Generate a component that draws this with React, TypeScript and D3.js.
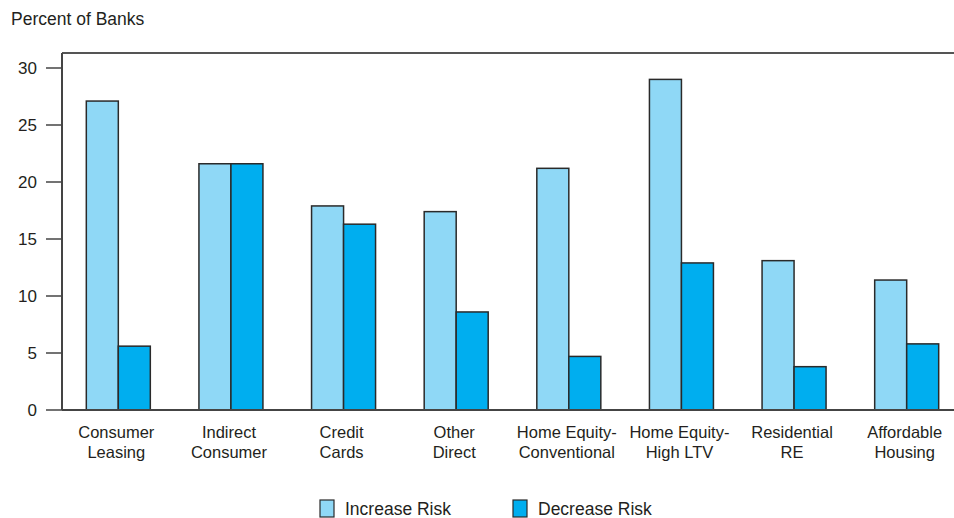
import React from "react";
import * as d3 from "d3";

const categories: string[][] = [
  ["Consumer", "Leasing"],
  ["Indirect", "Consumer"],
  ["Credit", "Cards"],
  ["Other", "Direct"],
  ["Home Equity-", "Conventional"],
  ["Home Equity-", "High LTV"],
  ["Residential", "RE"],
  ["Affordable", "Housing"],
];
const increaseRisk = [27.1, 21.6, 17.9, 17.4, 21.2, 29.0, 13.1, 11.4];
const decreaseRisk = [5.6, 21.6, 16.3, 8.6, 4.7, 12.9, 3.8, 5.8];
const yTicks = [0, 5, 10, 15, 20, 25, 30];
const seriesNames = ["Increase Risk", "Decrease Risk"];
const colors = ["#8fd8f6", "#00aeef"];

export default function App() {
  const W = 954;
  const H = 518;
  const x0 = 62;
  const x1 = 963;
  const yTop = 53;
  const yBase = 410;
  const x = d3
    .scaleBand<number>()
    .domain(d3.range(categories.length))
    .range([x0, x1])
    .paddingInner(0)
    .paddingOuter(0);
  const barW = 32;
  const y = d3.scaleLinear().domain([0, 30]).range([yBase, 68]);
  const font = "'Liberation Sans', Arial, Helvetica, sans-serif";
  const textColor = "#231f20";
  const series = [increaseRisk, decreaseRisk];

  return (
    <svg
      width={W}
      height={H}
      style={{ position: "absolute", left: 0, top: 0, background: "#fff" }}
      fontFamily={font}
    >
      <text x={11} y={25} fontSize={17.5} fill={textColor}>
        Percent of Banks
      </text>
      {/* bars */}
      {categories.map((_, i) => {
        const c = (x(i) as number) + x.bandwidth() / 2;
        return series.map((s, k) => (
          <rect
            key={`${i}-${k}`}
            x={c - barW + k * barW}
            y={y(s[i])}
            width={barW}
            height={yBase - y(s[i])}
            fill={colors[k]}
            stroke="#2a2a2a"
            strokeWidth={1.5}
          />
        ));
      })}
      {/* frame lines */}
      <line x1={x0} x2={W} y1={yTop} y2={yTop} stroke="#555" strokeWidth={2} />
      <line x1={x0} x2={W} y1={yBase} y2={yBase} stroke="#444" strokeWidth={2} />
      <line x1={x0} x2={x0} y1={yTop} y2={yBase} stroke="#444" strokeWidth={2} />
      {/* y ticks */}
      {yTicks.map((t) => (
        <g key={t}>
          <line x1={46} x2={x0} y1={y(t)} y2={y(t)} stroke="#444" strokeWidth={1.5} />
          <text
            x={37}
            y={y(t)}
            dy="0.35em"
            textAnchor="end"
            fontSize={17}
            fill={textColor}
          >
            {t}
          </text>
        </g>
      ))}
      {/* x labels */}
      {categories.map((lines, i) => {
        const c = (x(i) as number) + x.bandwidth() / 2;
        return (
          <text key={i} textAnchor="middle" fontSize={16.5} fill={textColor}>
            {lines.map((l, j) => (
              <tspan key={j} x={c - 2} y={438 + j * 20}>
                {l}
              </tspan>
            ))}
          </text>
        );
      })}
      {/* legend */}
      {seriesNames.map((n, k) => {
        const lx = k === 0 ? 320 : 513;
        return (
          <g key={n}>
            <rect
              x={lx}
              y={500}
              width={14}
              height={17}
              fill={colors[k]}
              stroke="#2a2a2a"
              strokeWidth={1.2}
            />
            <text x={lx + 25} y={515} fontSize={17.5} fill={textColor}>
              {n}
            </text>
          </g>
        );
      })}
    </svg>
  );
}
